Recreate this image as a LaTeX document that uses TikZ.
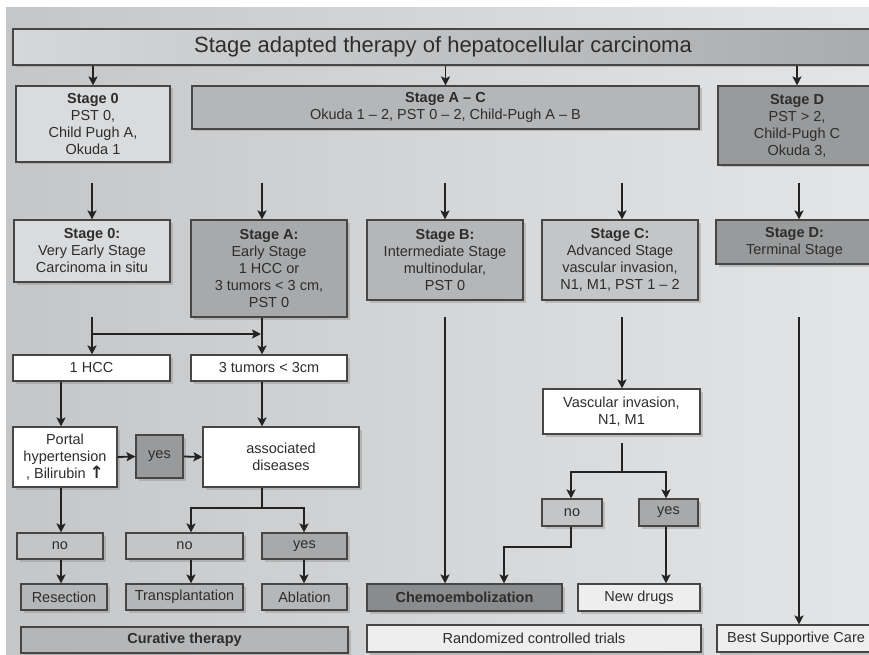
\documentclass[tikz,border=0pt]{standalone}
\usepackage{fontspec}
\setmainfont{Liberation Sans}
\newfontfamily\arrowfont{DejaVu Sans}
\usetikzlibrary{arrows.meta,shadows,calc}
\definecolor{bgleft}{RGB}{196,198,200}
\definecolor{bgright}{RGB}{228,229,230}
\definecolor{titleleft}{RGB}{214,215,216}
\definecolor{titleright}{RGB}{170,171,172}
\definecolor{boxline}{RGB}{70,70,70}
\definecolor{linedark}{RGB}{35,35,35}
\definecolor{textgray}{RGB}{45,45,45}
\definecolor{palegray}{RGB}{218,219,220}
\definecolor{lightgray}{RGB}{196,197,198}
\definecolor{midgray}{RGB}{181,182,183}
\definecolor{stonegray}{RGB}{168,169,170}
\definecolor{darkgray}{RGB}{153,154,155}
\definecolor{deepgray}{RGB}{138,139,140}
\definecolor{whitegray}{RGB}{238,238,238}
\tikzset{
    % Box styles
    stagebox/.style={
        rectangle, draw=boxline, line width=1.1pt, align=center,
        text=textgray, inner sep=1pt,
        font=\fontsize{14.5}{17}\selectfont,
        drop shadow={shadow xshift=2.5pt, shadow yshift=-2.5pt, opacity=0.35}
    },
    % Connector styles
    line/.style={draw=linedark, line width=1.8pt},
    arr/.style={line, -{Stealth[length=9pt, width=9pt, inset=2pt]}}
}

\begin{document}
\begin{tikzpicture}[x=1pt, y=-1pt]

% Frame and background
\useasboundingbox (0,0) rectangle (869,655);
\clip (0,0) rectangle (869,655);
\shade[left color=bgleft, right color=bgright] (6,8) rectangle (869,655);

% Title
\node[stagebox, left color=titleleft, right color=titleright, minimum width=860pt, minimum height=36pt, font=\fontsize{22}{24}\selectfont] (title) at (443,47) {Stage adapted therapy of hepatocellular carcinoma};

% Stage groups
\node[stagebox, fill=palegray, minimum width=154pt, minimum height=76pt] (stage0top) at (93,124) {\textbf{Stage 0}\\PST 0,\\Child Pugh A,\\Okuda 1};
\node[stagebox, fill=midgray, minimum width=507pt, minimum height=43pt] (stageAC) at (445.5,107.5) {\textbf{Stage A -- C}\\Okuda 1 -- 2, PST 0 -- 2, Child-Pugh A -- B};
\node[stagebox, fill=darkgray, minimum width=158pt, minimum height=79pt] (stageDtop) at (797,125.5) {\textbf{Stage D}\\PST > 2,\\Child-Pugh C\\Okuda 3,};

% Stages
\node[stagebox, fill=palegray, minimum width=156pt, minimum height=62pt] (s0) at (92,251) {\textbf{Stage 0:}\\Very Early Stage\\Carcinoma in situ};
\node[stagebox, fill=stonegray, minimum width=156pt, minimum height=97pt] (sA) at (269,268.5) {\textbf{Stage A:}\\Early Stage\\1 HCC or\\3 tumors < 3 cm,\\PST 0};
\node[stagebox, fill=midgray, minimum width=156pt, minimum height=80pt] (sB) at (445,260) {\textbf{Stage B:}\\Intermediate Stage\\multinodular,\\PST 0};
\node[stagebox, fill=lightgray, minimum width=156pt, minimum height=80pt] (sC) at (620,260) {\textbf{Stage C:}\\Advanced Stage\\vascular invasion,\\N1, M1, PST 1 -- 2};
\node[stagebox, fill=darkgray, minimum width=157pt, minimum height=44pt] (sD) at (794.5,242) {\textbf{Stage D:}\\Terminal Stage};

% Curative branch
\node[stagebox, fill=white, minimum width=157pt, minimum height=26pt] (hcc1) at (91.5,368) {1 HCC};
\node[stagebox, fill=white, minimum width=156pt, minimum height=26pt] (tum3) at (269,368) {3 tumors < 3cm};
\node[stagebox, fill=white, minimum width=104pt, minimum height=60pt] (portal) at (65,457) {Portal\\hypertension\\, Bilirubin {\arrowfont\bfseries\fontsize{17}{17}\selectfont ↑}};
\node[stagebox, fill=darkgray, minimum width=47pt, minimum height=43pt] (yesP) at (159.5,456.5) {yes};
\node[stagebox, fill=white, minimum width=156pt, minimum height=60pt] (assoc) at (281,457) {associated\\diseases};
\node[stagebox, fill=lightgray, minimum width=86pt, minimum height=26pt] (noL) at (60,546) {no};
\node[stagebox, fill=lightgray, minimum width=117pt, minimum height=26pt] (noM) at (184.5,546) {no};
\node[stagebox, fill=stonegray, minimum width=85pt, minimum height=26pt] (yesM) at (304.5,546) {yes};
\node[stagebox, fill=midgray, minimum width=86pt, minimum height=26pt] (resect) at (64,597) {Resection};
\node[stagebox, fill=midgray, minimum width=117pt, minimum height=26pt] (transp) at (184.5,597) {Transplantation};
\node[stagebox, fill=midgray, minimum width=85pt, minimum height=26pt] (ablat) at (304.5,597) {Ablation};
\node[stagebox, fill=midgray, minimum width=327pt, minimum height=26pt, font=\fontsize{14.5}{17}\selectfont\bfseries] (curative) at (184.5,640) {Curative therapy};

% Advanced branch
\node[stagebox, fill=white, minimum width=157pt, minimum height=45pt] (vasc) at (621.5,411.5) {Vascular invasion,\\N1, M1};
\node[stagebox, fill=lightgray, minimum width=60pt, minimum height=27pt] (noC) at (572,512.5) {no};
\node[stagebox, fill=stonegray, minimum width=59pt, minimum height=27pt] (yesC) at (668.5,512.5) {yes};
\node[stagebox, fill=deepgray, minimum width=195pt, minimum height=27pt, font=\fontsize{14.5}{17}\selectfont\bfseries] (chemo) at (464.5,597.5) {Chemoembolization};
\node[stagebox, fill=whitegray, minimum width=122pt, minimum height=27pt] (newdrugs) at (639,597.5) {New drugs};
\node[stagebox, fill=whitegray, minimum width=334pt, minimum height=27pt] (rct) at (534,638.5) {Randomized controlled trials};
\node[stagebox, fill=whitegray, minimum width=158pt, minimum height=27pt] (bsc) at (796,638.5) {Best Supportive Care};

% Columns and rows of the connectors
\coordinate (colA) at (262,0);
\coordinate (colC) at (622,0);
\coordinate (colD) at (799,0);
\coordinate (colP) at (61,0);
\coordinate (colN) at (191,0);
\coordinate (colY) at (304,0);
\coordinate (colCn) at (571,0);
\coordinate (colCy) at (666,0);
\coordinate (rowtop) at (0,183);
\coordinate (rowmid) at (0,317);
\coordinate (split) at (0,334);
\coordinate (forkA) at (0,508);
\coordinate (vgap) at (0,443);
\coordinate (forkC) at (0,472);
\coordinate (elbow) at (504,547);

% Title to stage groups
\foreach \n in {stage0top, stageAC, stageDtop}
    \draw[arr] (title.south -| \n) -- (\n.north);

% Groups to stages
\foreach \n/\c in {s0/s0, sA/colA, sB/sB, sC/colC, sD/colD}
    \draw[arr] (rowtop -| \c) -- (\n.north -| \c);

% Stages downwards
\draw[arr] (rowmid -| s0) -- (hcc1.north -| s0);
\draw[arr] (split -| s0) -- ($(split -| colA)+(-1,0)$);
\draw[arr] (sA.south -| colA) -- (tum3.north -| colA);
\draw[arr] (rowmid -| sB) -- (chemo.north -| sB);
\draw[arr] (rowmid -| colC) -- (vasc.north -| colC);
\draw[arr] (rowmid -| colD) -- (bsc.north -| colD);

% Curative decisions
\draw[arr] (hcc1.south -| colP) -- (portal.north -| colP);
\draw[arr] (portal.east) -- (yesP.west);
\draw[arr] (yesP.east) -- (assoc.west);
\draw[arr] (tum3.south -| colA) -- (assoc.north -| colA);
\draw[arr] (portal.south -| colP) -- (noL.north -| colP);
\draw[arr] (noL.south -| colP) -- (resect.north -| colP);
\draw[line] (assoc.south -| colA) -- (forkA -| colA);
\draw[arr] (forkA -| colA) -| (noM.north -| colN);
\draw[arr] (forkA -| colA) -| (yesM.north -| colY);
\draw[arr] (noM.south -| colN) -- (transp.north -| colN);
\draw[arr] (yesM.south -| colY) -- (ablat.north -| colY);

% Advanced decisions
\draw[line] (vgap -| colC) -- (forkC -| colC);
\draw[arr] (forkC -| colC) -| (noC.north -| colCn);
\draw[arr] (forkC -| colC) -| (yesC.north -| colCy);
\draw[arr] (noC.south -| colCn) |- (elbow) -- (chemo.north -| elbow);
\draw[arr] (yesC.south -| colCy) -- (newdrugs.north -| colCy);

\end{tikzpicture}
\end{document}
